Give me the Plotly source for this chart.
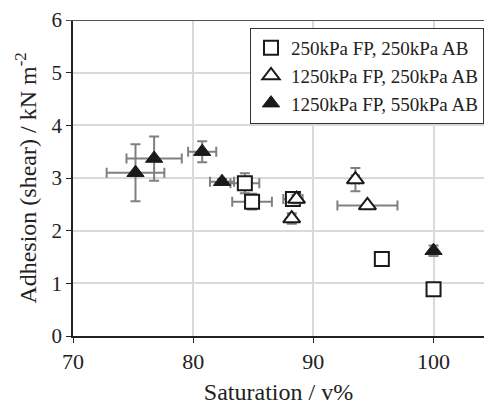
import plotly.graph_objects as go

# Series: 250kPa FP, 250kPa AB (open squares)
sq_x = [84.3, 84.9, 88.3, 95.7, 100.0]
sq_y = [2.90, 2.55, 2.60, 1.46, 0.89]
sq_ex = [1.2, 1.65, 0.8, 0.0, 0.0]
sq_ey = [0.19, 0.15, 0.08, 0.0, 0.0]

# Series: 1250kPa FP, 250kPa AB (open triangles)
ot_x = [88.2, 88.6, 93.5, 94.5]
ot_y = [2.23, 2.60, 2.97, 2.48]
ot_ex = [0.3, 0.3, 0.3, 2.5]
ot_ey = [0.1, 0.08, 0.22, 0.0]

# Series: 1250kPa FP, 550kPa AB (filled triangles)
ft_x = [75.2, 76.75, 80.75, 82.4, 100.0]
ft_y = [3.10, 3.37, 3.50, 2.93, 1.62]
ft_ex = [2.4, 2.3, 1.17, 1.0, 0.0]
ft_ey = [0.54, 0.42, 0.2, 0.05, 0.1]

names = ["250kPa FP, 250kPa AB", "1250kPa FP, 250kPa AB", "1250kPa FP, 550kPa AB"]

x_ticks = [70, 80, 90, 100]
y_ticks = [0, 1, 2, 3, 4, 5, 6]

err_color = "#808080"

def err(arr):
    return dict(type="data", array=arr, visible=True, color=err_color, thickness=2, width=5)

fig = go.Figure()
fig.add_trace(go.Scatter(
    x=sq_x, y=sq_y, mode="markers", name=names[0],
    error_x=err(sq_ex), error_y=err(sq_ey),
    marker=dict(symbol="square", size=14, color="white", line=dict(color="#1a1a1a", width=2)),
))
fig.add_trace(go.Scatter(
    x=ot_x, y=ot_y, mode="markers", name=names[1],
    error_x=err(ot_ex), error_y=err(ot_ey),
    marker=dict(symbol="triangle-up", size=15, color="white", line=dict(color="#1a1a1a", width=2)),
))
fig.add_trace(go.Scatter(
    x=ft_x, y=ft_y, mode="markers", name=names[2],
    error_x=err(ft_ex), error_y=err(ft_ey),
    marker=dict(symbol="triangle-up", size=15, color="#1a1a1a", line=dict(color="#1a1a1a", width=1)),
))

font_family = "Liberation Serif"

fig.update_layout(
    width=485, height=410,
    margin=dict(l=73, r=1, t=20, b=74),
    plot_bgcolor="white", paper_bgcolor="white",
    font=dict(family=font_family, size=20, color="#222"),
    legend=dict(
        x=1.0, y=0.975, xanchor="right", yanchor="top",
        bgcolor="white", bordercolor="#333", borderwidth=1,
        font=dict(family=font_family, size=19, color="#222"),
        itemwidth=30, tracegroupgap=0,
    ),
    showlegend=True,
    shapes=[dict(type="line", xref="paper", yref="y", x0=-0.015, x1=1.0, y0=6, y1=6,
                 line=dict(color="#555", width=2), layer="above")],
)
fig.update_xaxes(
    range=[70, 104.2], tickvals=x_ticks,
    showgrid=True, gridcolor="#d9d9d9", gridwidth=2,
    showline=True, linecolor="#222", linewidth=1.5,
    ticks="outside", ticklen=5, tickcolor="#222",
    zeroline=False, automargin=False,
    tickfont=dict(family=font_family, size=22),
    title=dict(text="Saturation / v%", font=dict(family=font_family, size=24), standoff=10),
)
fig.update_yaxes(
    range=[0, 6], tickvals=y_ticks,
    showgrid=True, gridcolor="#d9d9d9", gridwidth=2,
    showline=True, linecolor="#222", linewidth=1.5,
    ticks="outside", ticklen=5, tickcolor="#222",
    zeroline=False, automargin=False,
    tickfont=dict(family=font_family, size=21),
    title=dict(text="Adhesion (shear) / kN m<sup>-2</sup>", font=dict(family=font_family, size=24), standoff=8),
)

fig.write_html("out.html", config={"displayModeBar": False},
               post_script="document.body.style.margin='0px';")
